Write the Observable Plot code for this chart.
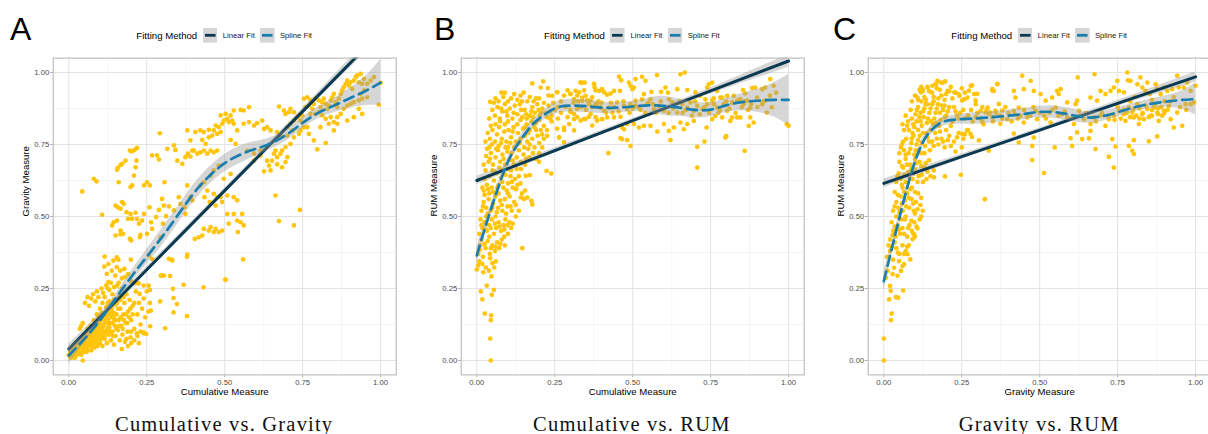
<!DOCTYPE html>
<html>
<head>
<meta charset="utf-8">
<script src="https://cdn.jsdelivr.net/npm/d3@7"></script>
<script src="https://cdn.jsdelivr.net/npm/@observablehq/plot@0.6"></script>
<style>
  html, body { margin: 0; padding: 0; background: #fff; }
  #root { position: relative; width: 1208px; height: 434px; overflow: hidden; background: #fff; font-family: "Liberation Sans", Arial, sans-serif; }
  .abs { position: absolute; }
  .letter { font-size: 32px; line-height: 32px; color: #000; }
  .legend { display: flex; align-items: center; justify-content: center; height: 16px; }
  .legend .lt { font-size: 9.6px; color: #000; margin-right: 5.6px; white-space: nowrap; }
  .legend .ll { font-size: 7.7px; color: #1a1a1a; margin: 0 5.2px 0 5.4px; white-space: nowrap; }
  .legend svg { display: block; }
  .caption { font-family: "Liberation Serif", "Times New Roman", serif; font-size: 20.5px; line-height: 20.5px; letter-spacing: 1.2px; text-align: center; color: #111; white-space: nowrap; }
</style>
</head>
<body>
<div id="root"></div>
<script>
// ---------- tick values ----------
const majorTicks = [0, 0.25, 0.5, 0.75, 1];
const minorTicks = [0.125, 0.375, 0.625, 0.875];
const tickLabels = ["0.00", "0.25", "0.50", "0.75", "1.00"];

// ---------- Panel A: Cumulative (x) vs Gravity (y) ----------
const cumGravityPoints = [
[0.0,0.02],[0.005,0.01],[0.01,0.03],[0.012,0.015],[0.015,0.04],[0.018,0.025],[0.02,0.05],[0.02,0.01],[0.008,0.045],[0.025,0.03],
[0.028,0.02],[0.03,0.045],[0.032,0.06],[0.035,0.03],[0.038,0.075],[0.04,0.05],[0.04,0.02],[0.042,0.065],[0.045,0.04],[0.045,0.0],
[0.05,0.03],[0.05,0.06],[0.052,0.09],[0.055,0.045],[0.058,0.075],[0.06,0.11],[0.06,0.035],[0.062,0.06],[0.065,0.09],[0.068,0.05],[0.07,0.12],[0.07,0.075],[0.072,0.035],
[0.075,0.1],[0.078,0.06],[0.08,0.14],[0.08,0.085],[0.083,0.045],[0.085,0.11],[0.088,0.07],[0.09,0.16],[0.09,0.095],[0.092,0.05],[0.095,0.125],[0.098,0.08],[0.1,0.18],[0.1,0.11],[0.1,0.06],
[0.103,0.14],[0.105,0.09],[0.108,0.2],[0.108,0.05],[0.11,0.12],[0.112,0.165],[0.115,0.075],[0.115,0.22],[0.118,0.1],[0.12,0.14],[0.12,0.185],[0.122,0.06],[0.125,0.115],[0.125,0.25],[0.128,0.16],[0.13,0.09],[0.13,0.205],
[0.133,0.13],[0.135,0.07],[0.138,0.175],[0.14,0.1],[0.14,0.23],[0.143,0.15],[0.145,0.055],[0.148,0.12],[0.15,0.195],[0.15,0.085],[0.153,0.16],[0.155,0.26],[0.157,0.105],[0.16,0.14],[0.16,0.22],[0.163,0.07],[0.165,0.18],
[0.168,0.12],[0.17,0.25],[0.172,0.09],[0.175,0.16],[0.178,0.2],[0.18,0.065],[0.182,0.13],[0.185,0.23],[0.188,0.1],[0.19,0.17],[0.195,0.21],[0.198,0.08],[0.2,0.14],[0.205,0.19],[0.21,0.11],[0.215,0.24],[0.22,0.16],[0.225,0.2],[0.23,0.125],[0.235,0.18],[0.24,0.215],[0.245,0.15],[0.25,0.24],[0.255,0.17],[0.26,0.2],
[0.03,0.035],[0.045,0.055],[0.055,0.065],[0.065,0.075],[0.075,0.085],[0.085,0.095],[0.095,0.105],[0.105,0.115],[0.115,0.13],[0.125,0.14],[0.135,0.15],[0.145,0.165],
[0.06,0.05],[0.07,0.06],[0.08,0.07],[0.09,0.08],[0.1,0.09],[0.11,0.1],[0.12,0.105],[0.13,0.115],[0.14,0.13],[0.15,0.14],[0.035,0.05],[0.025,0.04],[0.015,0.025],
[0.05,0.075],[0.06,0.085],[0.07,0.095],[0.08,0.105],[0.09,0.12],[0.1,0.13],[0.11,0.145],[0.12,0.155],[0.13,0.17],[0.14,0.19],
[0.005,0.03],[0.01,0.02],[0.015,0.01],[0.02,0.03],[0.022,0.06],[0.03,0.025],[0.033,0.045],[0.037,0.06],[0.043,0.03],[0.048,0.07],[0.053,0.05],[0.057,0.03],[0.063,0.1],[0.067,0.065],[0.073,0.05],[0.077,0.075],[0.082,0.12],[0.087,0.06],[0.093,0.09],[0.097,0.14],[0.102,0.075],[0.107,0.105],[0.112,0.085],[0.117,0.15],[0.123,0.09],[0.127,0.13],[0.132,0.1],[0.137,0.16],[0.142,0.085],[0.147,0.14],[0.152,0.11],[0.158,0.18],[0.162,0.12],[0.167,0.15],[0.173,0.11],[0.177,0.14],[0.183,0.16],[0.187,0.13],[0.193,0.15],[0.197,0.18],[0.205,0.16],[0.21,0.2],[0.155,0.2],[0.145,0.21],[0.165,0.21],[0.175,0.22],[0.125,0.2],[0.135,0.19],[0.105,0.165],[0.095,0.15],[0.085,0.13],[0.075,0.115],[0.065,0.105],[0.055,0.095],[0.045,0.085],[0.035,0.07],[0.025,0.055],[0.015,0.05],
[0.052,0.2],[0.06,0.22],[0.065,0.19],[0.072,0.215],[0.078,0.23],[0.085,0.205],[0.09,0.24],[0.095,0.22],[0.105,0.25],[0.11,0.235],[0.12,0.26],[0.13,0.245],[0.135,0.27],[0.145,0.255],[0.16,0.27],[0.17,0.285],[0.18,0.29],[0.19,0.3],[0.2,0.275],
[0.17,0.04],[0.19,0.05],[0.2,0.06],[0.21,0.07],[0.22,0.085],[0.23,0.1],[0.24,0.095],[0.225,0.06],[0.2,0.1],[0.185,0.075],[0.04,0.12],[0.045,0.13],[0.035,0.11],
[0.115,0.361],[0.114,0.326],[0.127,0.335],[0.143,0.347],[0.154,0.358],[0.159,0.35],[0.138,0.312],[0.154,0.324],[0.122,0.301],[0.127,0.272],[0.149,0.295],[0.165,0.312],[0.178,0.318],[0.199,0.35],
[0.213,0.268],[0.224,0.268],[0.24,0.26],[0.256,0.26],[0.227,0.231],[0.26,0.245],[0.263,0.173],[0.261,0.119],[0.248,0.092],[0.218,0.094],[0.24,0.098],
[0.293,0.205],[0.295,0.295],[0.325,0.293],[0.33,0.35],[0.334,0.249],[0.336,0.217],[0.347,0.196],[0.336,0.167],[0.309,0.112],[0.368,0.263],[0.379,0.154],[0.379,0.36],[0.432,0.254],[0.502,0.281],
[0.043,0.587],[0.08,0.631],[0.089,0.622],[0.107,0.506],
[0.196,0.729],[0.203,0.726],[0.211,0.731],[0.219,0.738],[0.155,0.662],[0.157,0.669],[0.166,0.679],[0.171,0.683],[0.182,0.694],[0.217,0.694],[0.16,0.619],[0.198,0.602],[0.203,0.608],[0.209,0.642],[0.214,0.671],
[0.241,0.608],[0.251,0.619],[0.26,0.608],[0.267,0.712],[0.283,0.712],[0.289,0.698],[0.292,0.789],[0.307,0.619],[0.316,0.735],[0.337,0.747],[0.342,0.731],
[0.15,0.538],[0.157,0.532],[0.166,0.527],[0.171,0.55],[0.144,0.48],[0.139,0.469],[0.155,0.486],[0.166,0.451],[0.174,0.44],[0.185,0.515],[0.19,0.492],[0.198,0.509],[0.203,0.492],[0.214,0.513],[0.219,0.492],[0.225,0.475],[0.176,0.544],
[0.15,0.434],[0.166,0.438],[0.196,0.422],[0.2,0.417],[0.23,0.436],[0.228,0.428],[0.241,0.509],[0.235,0.486],[0.259,0.532],[0.264,0.48],[0.28,0.498],[0.289,0.523],[0.299,0.561],[0.305,0.538],[0.312,0.501],[0.321,0.535],
[0.251,0.44],[0.267,0.457],[0.294,0.428],[0.302,0.475],[0.337,0.521],[0.358,0.544],[0.353,0.567],[0.371,0.532],[0.38,0.368],[0.332,0.347],[0.321,0.353],[0.267,0.353],[0.257,0.365],[0.299,0.295],[0.305,0.295],
[0.348,0.694],[0.364,0.683],[0.374,0.706],[0.382,0.718],[0.39,0.708],[0.396,0.729],[0.406,0.793],[0.422,0.799],[0.401,0.729],[0.412,0.718],[0.422,0.723],[0.433,0.729],[0.444,0.718],[0.455,0.729],[0.465,0.723],[0.476,0.729],
[0.428,0.766],[0.439,0.752],[0.449,0.775],[0.46,0.781],[0.465,0.799],[0.476,0.787],[0.487,0.793],[0.481,0.81],[0.492,0.822],[0.497,0.833],[0.487,0.851],[0.503,0.856],[0.519,0.851],[0.524,0.833],[0.529,0.822],[0.54,0.799],[0.508,0.839],[0.513,0.828],
[0.529,0.868],[0.551,0.87],[0.561,0.868],[0.578,0.88],[0.433,0.793],[0.449,0.801],[0.471,0.816],[0.561,0.822],[0.578,0.828],[0.594,0.816],[0.604,0.824],[0.62,0.833],[0.626,0.804],[0.636,0.81],[0.647,0.799],
[0.38,0.799],[0.39,0.764],[0.519,0.766],[0.535,0.752],[0.572,0.729],[0.594,0.718],[0.455,0.642],[0.465,0.66],[0.481,0.677],[0.497,0.631],[0.519,0.648],
[0.422,0.608],[0.433,0.619],[0.444,0.59],[0.465,0.579],[0.476,0.567],[0.487,0.567],[0.492,0.55],[0.38,0.608],[0.39,0.567],[0.396,0.556],[0.435,0.567],[0.452,0.55],[0.471,0.538],
[0.404,0.422],[0.417,0.428],[0.428,0.434],[0.433,0.457],[0.449,0.451],[0.465,0.446],[0.481,0.446],[0.492,0.451],[0.455,0.463],[0.471,0.457],[0.513,0.475],[0.529,0.509],[0.54,0.486],[0.551,0.48],[0.556,0.509],
[0.508,0.573],[0.529,0.567],[0.54,0.556],[0.561,0.469],[0.542,0.446],[0.559,0.351],[0.503,0.28],[0.508,0.509],[0.374,0.509],
[0.594,0.694],[0.615,0.712],[0.636,0.694],[0.642,0.677],[0.652,0.694],[0.668,0.706],[0.679,0.718],[0.684,0.729],[0.695,0.741],[0.711,0.752],[0.722,0.775],[0.738,0.787],[0.743,0.799],[0.754,0.81],
[0.674,0.882],[0.69,0.868],[0.695,0.856],[0.706,0.862],[0.711,0.874],[0.722,0.862],[0.733,0.845],[0.743,0.833],[0.749,0.851],[0.668,0.793],[0.679,0.781],[0.701,0.781],[0.717,0.799],
[0.663,0.573],[0.674,0.484],[0.722,0.469],[0.741,0.523],[0.626,0.657],[0.647,0.66],[0.668,0.681],[0.684,0.671],[0.695,0.689],[0.701,0.706],[0.663,0.729],[0.658,0.718],[0.615,0.729],[0.701,0.81],[0.711,0.822],
[0.754,0.909],[0.765,0.914],[0.775,0.903],[0.786,0.891],[0.791,0.909],[0.802,0.903],[0.807,0.88],[0.813,0.897],[0.818,0.909],[0.824,0.891],[0.829,0.874],[0.834,0.885],[0.84,0.903],[0.845,0.914],[0.85,0.926],[0.856,0.897],[0.861,0.88],[0.866,0.909],[0.872,0.926],[0.877,0.938],[0.882,0.949],[0.888,0.961],[0.893,0.972],[0.898,0.955],[0.904,0.966],[0.909,0.943],[0.914,0.972],[0.92,0.984],[0.925,0.99],[0.93,0.966],[0.936,0.995],[0.941,0.961],[0.947,0.978],
[0.781,0.874],[0.791,0.856],[0.802,0.862],[0.813,0.851],[0.824,0.839],[0.834,0.822],[0.84,0.845],[0.85,0.828],[0.861,0.845],[0.872,0.856],[0.882,0.874],[0.893,0.885],[0.904,0.891],[0.914,0.897],
[0.765,0.81],[0.77,0.787],[0.786,0.764],[0.797,0.733],[0.824,0.755],[0.807,0.81],[0.85,0.799],[0.861,0.822],[0.93,0.903],[0.941,0.909],[0.947,0.938],[0.957,0.961],[0.968,0.972],[0.979,0.984],[0.93,0.874],[0.941,0.856],[0.914,0.845],[0.893,0.833],
[0.994,0.888],[1.0,0.964],[0.957,0.914],[0.936,0.926],[0.722,0.833],[0.738,0.851],[0.759,0.88],[0.77,0.885],[0.775,0.856]
];
const linearX = [0, 0.25, 0.5, 0.75, 1];
const linearFitA = [0.04, 0.315, 0.59, 0.865, 1.14];
const linearLoA = [0.024, 0.305, 0.582, 0.854, 1.12];
const linearHiA = [0.056, 0.325, 0.598, 0.876, 1.16];
const splineXA = [0,0.05,0.1,0.15,0.2,0.25,0.3,0.35,0.4,0.45,0.5,0.55,0.6,0.65,0.7,0.75,0.8,0.85,0.9,0.95,1];
const splineFitA = [0.017,0.075,0.14,0.215,0.29,0.36,0.43,0.505,0.58,0.64,0.685,0.715,0.735,0.755,0.785,0.825,0.86,0.885,0.91,0.935,0.965];
const splineLoA = [-0.013,0.06,0.128,0.2,0.27,0.335,0.4,0.475,0.55,0.61,0.655,0.685,0.71,0.735,0.765,0.805,0.84,0.86,0.875,0.885,0.885];
const splineHiA = [0.047,0.09,0.152,0.23,0.31,0.385,0.46,0.535,0.61,0.67,0.715,0.745,0.76,0.775,0.805,0.845,0.88,0.91,0.945,0.985,1.045];

// ---------- Panel B: Cumulative (x) vs RUM (y) ----------
const cumRumPoints = [
[0.045,0.0],[0.043,0.076],[0.045,0.14],[0.046,0.157],[0.026,0.163],[0.018,0.212],[0.032,0.26],[0.048,0.228],[0.055,0.245],[0.013,0.24],
[0.0,0.316],[0.004,0.33],[0.008,0.344],[0.018,0.335],[0.021,0.306],[0.029,0.323],[0.039,0.312],[0.047,0.292],[0.056,0.323],[0.05,0.338],[0.061,0.344],[0.043,0.355],
[0.146,0.39],[0.043,0.898],[0.079,0.93],[0.178,0.962],[0.213,0.969],[0.205,0.948],[0.228,0.946],[0.258,0.931],[0.242,0.919],
[0.157,0.641],[0.17,0.644],[0.224,0.658],[0.239,0.649],[0.141,0.566],[0.151,0.561],[0.162,0.566],[0.175,0.554],[0.178,0.542],[0.145,0.58],[0.155,0.59],
[0.28,0.809],[0.296,0.821],[0.312,0.838],[0.264,0.774],[0.226,0.78],[0.3,0.925],[0.317,0.936],[0.328,0.931],[0.338,0.913],[0.349,0.919],
[0.005,0.37],[0.012,0.4],[0.02,0.36],[0.028,0.39],[0.035,0.415],[0.042,0.37],[0.05,0.4],[0.058,0.38],[0.065,0.41],[0.072,0.39],[0.08,0.42],[0.015,0.42],[0.04,0.43],
[0.008,0.44],[0.018,0.46],[0.025,0.48],[0.032,0.45],[0.04,0.47],[0.048,0.49],[0.055,0.44],[0.062,0.46],[0.07,0.48],[0.078,0.45],[0.085,0.47],[0.092,0.49],[0.1,0.44],[0.105,0.48],[0.03,0.5],[0.06,0.5],[0.012,0.49],[0.088,0.43],[0.11,0.46],
[0.015,0.52],[0.022,0.55],[0.03,0.53],[0.038,0.56],[0.045,0.52],[0.052,0.545],[0.06,0.57],[0.068,0.53],[0.075,0.555],[0.082,0.52],[0.09,0.56],[0.098,0.535],[0.105,0.57],[0.112,0.52],[0.12,0.55],[0.04,0.58],[0.07,0.58],[0.1,0.58],[0.025,0.575],[0.125,0.5],
[0.018,0.6],[0.025,0.63],[0.032,0.61],[0.04,0.64],[0.048,0.6],[0.055,0.625],[0.062,0.65],[0.07,0.61],[0.078,0.635],[0.085,0.6],[0.092,0.645],[0.1,0.615],[0.108,0.64],[0.115,0.6],[0.122,0.63],[0.13,0.61],[0.05,0.66],[0.08,0.66],[0.11,0.66],[0.135,0.64],
[0.022,0.68],[0.03,0.71],[0.038,0.69],[0.045,0.72],[0.052,0.68],[0.06,0.705],[0.068,0.73],[0.075,0.69],[0.082,0.715],[0.09,0.68],[0.098,0.725],[0.105,0.695],[0.112,0.72],[0.12,0.68],[0.128,0.705],[0.135,0.73],[0.142,0.69],[0.15,0.715],[0.158,0.7],[0.165,0.735],[0.04,0.74],[0.07,0.745],[0.1,0.74],[0.18,0.72],
[0.028,0.76],[0.035,0.79],[0.042,0.77],[0.05,0.8],[0.058,0.76],[0.065,0.785],[0.072,0.81],[0.08,0.77],[0.088,0.795],[0.095,0.76],[0.102,0.8],[0.11,0.775],[0.118,0.81],[0.125,0.76],[0.132,0.79],[0.14,0.77],[0.148,0.805],[0.155,0.78],[0.162,0.76],[0.17,0.8],[0.178,0.77],[0.185,0.81],[0.195,0.78],[0.205,0.8],[0.06,0.82],[0.09,0.82],[0.13,0.82],[0.16,0.82],[0.215,0.77],
[0.04,0.84],[0.05,0.87],[0.058,0.85],[0.066,0.88],[0.074,0.84],[0.082,0.865],[0.09,0.89],[0.098,0.85],[0.106,0.875],[0.114,0.84],[0.122,0.885],[0.13,0.855],[0.138,0.89],[0.146,0.845],[0.154,0.87],[0.162,0.9],[0.17,0.85],[0.178,0.88],[0.186,0.86],[0.194,0.89],[0.202,0.85],[0.21,0.875],[0.22,0.86],[0.23,0.885],[0.24,0.85],[0.25,0.87],[0.1,0.9],[0.13,0.905],[0.07,0.9],
[0.06,0.91],[0.085,0.915],[0.11,0.91],[0.14,0.92],[0.17,0.915],[0.2,0.91],[0.23,0.92],[0.12,0.925],[0.15,0.93],[0.09,0.93],[0.19,0.7],[0.2,0.72],[0.21,0.74],[0.2,0.69],[0.24,0.83],[0.26,0.84],[0.28,0.8],
[0.01,0.385],[0.025,0.405],[0.045,0.39],[0.06,0.395],[0.075,0.405],[0.09,0.4],
[0.015,0.47],[0.028,0.455],[0.045,0.46],[0.058,0.475],[0.072,0.465],[0.088,0.455],[0.098,0.47],[0.115,0.475],
[0.02,0.535],[0.035,0.51],[0.05,0.53],[0.064,0.515],[0.08,0.54],[0.094,0.51],[0.108,0.535],[0.125,0.54],[0.135,0.52],
[0.022,0.59],[0.036,0.595],[0.052,0.585],[0.066,0.6],[0.082,0.62],[0.096,0.59],[0.112,0.62],[0.126,0.595],[0.14,0.615],
[0.028,0.66],[0.042,0.7],[0.058,0.655],[0.072,0.67],[0.086,0.7],[0.1,0.665],[0.115,0.695],[0.128,0.665],[0.142,0.665],[0.155,0.68],[0.168,0.705],
[0.033,0.735],[0.048,0.75],[0.062,0.735],[0.078,0.755],[0.092,0.74],[0.108,0.755],[0.12,0.74],[0.138,0.755],[0.152,0.74],[0.17,0.75],[0.185,0.74],[0.2,0.755],
[0.045,0.815],[0.075,0.83],[0.1,0.83],[0.115,0.795],[0.14,0.835],[0.155,0.81],[0.175,0.83],[0.19,0.8],[0.2,0.835],[0.215,0.815],[0.225,0.8],[0.235,0.84],
[0.055,0.895],[0.078,0.875],[0.095,0.865],[0.118,0.86],[0.142,0.87],[0.158,0.855],[0.182,0.9],[0.198,0.87],[0.215,0.895],[0.235,0.865],[0.245,0.895],[0.26,0.88],[0.27,0.86],
[0.165,0.79],[0.18,0.845],[0.19,0.825],[0.205,0.86],[0.21,0.785],[0.225,0.845],[0.175,0.865],[0.19,0.91],[0.16,0.84],[0.145,0.9],
[0.27,0.9],[0.285,0.88],[0.3,0.87],[0.31,0.895],[0.325,0.9],[0.335,0.88],[0.35,0.87],[0.36,0.89],[0.37,0.88],[0.39,0.9],[0.4,0.895],[0.415,0.86],[0.43,0.895],[0.44,0.88],[0.455,0.865],[0.47,0.9],[0.49,0.86],[0.5,0.875],[0.51,0.885],[0.525,0.87],[0.54,0.86],[0.55,0.895],[0.565,0.89],[0.575,0.86],[0.59,0.9],[0.605,0.88],[0.615,0.86],[0.63,0.875],[0.65,0.9],[0.66,0.86],[0.67,0.87],[0.69,0.85],[0.7,0.9],[0.715,0.855],[0.73,0.88],[0.745,0.86],[0.76,0.91],[0.775,0.86],
[0.258,0.932],[0.28,0.92],[0.291,0.938],[0.301,0.926],[0.312,0.908],[0.322,0.92],[0.333,0.966],[0.338,0.964],[0.344,0.938],[0.354,0.903],[0.37,0.914],[0.376,0.961],[0.381,0.938],[0.386,0.891],
[0.291,0.845],[0.301,0.862],[0.312,0.856],[0.322,0.874],[0.333,0.833],[0.349,0.839],[0.365,0.856],[0.37,0.816],[0.381,0.845],[0.386,0.833],[0.258,0.805],[0.264,0.775],[0.28,0.758],[0.312,0.799],[0.322,0.845],
[0.333,0.965],[0.346,0.965],[0.376,0.959],[0.378,0.948],[0.392,0.936],[0.402,0.942],[0.408,0.931],[0.418,0.923],[0.429,0.927],[0.44,0.936],[0.459,0.936],[0.456,0.986],[0.463,0.973],[0.488,0.965],[0.493,0.954],[0.499,0.942],[0.504,0.948],[0.509,0.977],[0.53,0.985],[0.541,0.971],[0.536,0.925],[0.56,0.933],[0.578,0.991],[0.591,0.933],[0.613,0.93],[0.605,0.948],[0.643,0.942],[0.653,0.994],[0.667,1.0],[0.675,0.939],[0.701,0.931],[0.717,0.919],[0.739,0.948],[0.744,0.959],[0.755,0.965],[0.771,0.936],[0.781,0.913],[0.803,0.919],[0.824,0.919],[0.854,0.939],[0.861,0.927],[0.883,0.946],[0.893,0.948],[0.915,0.942],[0.925,0.948],[0.941,0.977],[0.952,0.954],
[0.344,0.838],[0.36,0.846],[0.386,0.834],[0.402,0.838],[0.418,0.844],[0.44,0.844],[0.461,0.846],[0.466,0.809],[0.472,0.803],[0.482,0.821],[0.504,0.821],[0.52,0.809],[0.536,0.815],[0.557,0.815],[0.461,0.772],[0.466,0.769],[0.482,0.765],[0.493,0.745],[0.422,0.72],[0.579,0.795],[0.6,0.821],[0.616,0.797],[0.621,0.765],[0.632,0.809],[0.653,0.826],[0.664,0.803],[0.675,0.821],[0.696,0.832],[0.707,0.742],[0.707,0.67],[0.73,0.76],[0.737,0.809],[0.755,0.838],[0.765,0.849],[0.787,0.844],[0.797,0.774],[0.8,0.779],[0.813,0.832],[0.819,0.844],[0.835,0.844],[0.845,0.844],[0.859,0.728],[0.872,0.815],[0.877,0.844],[0.888,0.826],[0.93,0.861],[0.946,0.879],[0.994,0.821],[1.0,0.815],
[0.338,0.902],[0.365,0.902],[0.381,0.89],[0.397,0.878],[0.408,0.867],[0.424,0.878],[0.435,0.861],[0.45,0.896],[0.472,0.884],[0.482,0.873],[0.493,0.89],[0.509,0.902],[0.52,0.878],[0.53,0.907],[0.546,0.89],[0.557,0.907],[0.568,0.873],[0.584,0.884],[0.6,0.867],[0.616,0.907],[0.627,0.896],[0.643,0.861],[0.659,0.89],[0.675,0.878],[0.685,0.896],[0.696,0.867],[0.707,0.884],[0.723,0.873],[0.733,0.907],[0.739,0.89],[0.755,0.902],[0.771,0.878],[0.787,0.913],[0.792,0.89],[0.803,0.867],[0.819,0.896],[0.835,0.902],[0.845,0.907],[0.856,0.89],[0.867,0.902],[0.877,0.878],[0.899,0.913],[0.915,0.89],[0.925,0.902],
[0.76,0.89],[0.78,0.87],[0.8,0.9],[0.81,0.875],[0.82,0.895],[0.83,0.86],[0.84,0.905],[0.85,0.88],[0.86,0.9],[0.87,0.87],[0.88,0.89],[0.9,0.88],[0.92,0.9],[0.94,0.92],[0.96,0.93]
];
const linearFitB = [0.625, 0.729, 0.833, 0.936, 1.04];
const linearLoB = [0.61, 0.72, 0.826, 0.926, 1.018];
const linearHiB = [0.64, 0.738, 0.84, 0.946, 1.062];
const splineXB = [0,0.025,0.05,0.075,0.1,0.125,0.15,0.175,0.2,0.25,0.3,0.35,0.4,0.45,0.5,0.55,0.6,0.65,0.7,0.75,0.8,0.85,0.9,0.95,1];
const splineFitB = [0.365,0.455,0.54,0.62,0.69,0.74,0.78,0.815,0.84,0.875,0.885,0.883,0.878,0.878,0.882,0.886,0.884,0.878,0.87,0.871,0.886,0.897,0.902,0.905,0.905];
const splineLoB = [0.335,0.435,0.522,0.604,0.675,0.725,0.765,0.8,0.824,0.855,0.863,0.861,0.858,0.86,0.864,0.861,0.851,0.848,0.842,0.846,0.861,0.867,0.862,0.847,0.817];
const splineHiB = [0.395,0.475,0.558,0.636,0.705,0.755,0.795,0.83,0.856,0.895,0.907,0.905,0.898,0.896,0.9,0.911,0.917,0.908,0.898,0.896,0.911,0.927,0.942,0.963,0.993];

// ---------- Panel C: Gravity (x) vs RUM (y) ----------
const gravRumPoints = [
[0,0],[0,0.076],[0.025,0.163],[0.023,0.14],[0.017,0.212],[0.022,0.242],[0.02,0.259],[0.039,0.22],[0.046,0.218],[0.062,0.243],
[0.007,0.288],[0.012,0.311],[0.028,0.3],[0.033,0.322],[0.044,0.294],[0.055,0.311],[0.06,0.328],[0.049,0.345],[0.065,0.334],[0.085,0.351],[0.076,0.369],
[0.108,0.459],[0.097,0.438],[0.092,0.421],[0.324,0.56],[0.161,0.636],[0.196,0.639],[0.247,0.645],
[0.01,0.36],[0.02,0.38],[0.03,0.35],[0.04,0.39],[0.05,0.37],[0.06,0.4],[0.07,0.38],[0.08,0.4],[0.015,0.4],[0.035,0.41],
[0.02,0.42],[0.03,0.45],[0.038,0.43],[0.045,0.47],[0.052,0.44],[0.06,0.46],[0.068,0.49],[0.075,0.43],[0.082,0.47],[0.09,0.45],[0.098,0.48],[0.04,0.5],[0.07,0.5],[0.025,0.48],[0.1,0.43],[0.055,0.49],
[0.03,0.52],[0.04,0.55],[0.047,0.53],[0.054,0.57],[0.061,0.52],[0.068,0.555],[0.075,0.58],[0.082,0.53],[0.089,0.56],[0.096,0.52],[0.103,0.55],[0.11,0.58],[0.117,0.54],[0.06,0.6],[0.09,0.6],[0.035,0.585],[0.125,0.52],[0.12,0.5],[0.115,0.49],[0.1,0.51],
[0.04,0.62],[0.048,0.65],[0.055,0.63],[0.062,0.67],[0.07,0.62],[0.078,0.655],[0.085,0.68],[0.092,0.63],[0.1,0.665],[0.108,0.62],[0.115,0.69],[0.122,0.645],[0.13,0.67],[0.137,0.63],[0.145,0.695],[0.07,0.7],[0.1,0.7],[0.05,0.69],[0.16,0.66],
[0.05,0.72],[0.058,0.75],[0.065,0.73],[0.072,0.77],[0.08,0.72],[0.088,0.755],[0.095,0.78],[0.102,0.73],[0.11,0.765],[0.118,0.72],[0.125,0.79],[0.132,0.745],[0.14,0.775],[0.148,0.73],[0.155,0.76],[0.165,0.79],[0.175,0.75],[0.185,0.77],[0.195,0.74],[0.21,0.78],[0.225,0.76],[0.24,0.79],[0.255,0.77],[0.27,0.8],[0.08,0.8],[0.11,0.8],[0.15,0.8],[0.2,0.8],[0.23,0.725],[0.25,0.74],
[0.06,0.82],[0.07,0.85],[0.078,0.83],[0.086,0.87],[0.094,0.82],[0.102,0.855],[0.11,0.88],[0.118,0.83],[0.126,0.865],[0.134,0.89],[0.142,0.84],[0.15,0.875],[0.158,0.82],[0.166,0.86],[0.174,0.89],[0.182,0.835],[0.19,0.87],[0.2,0.85],[0.21,0.88],[0.22,0.83],[0.23,0.865],[0.24,0.84],[0.255,0.87],[0.27,0.85],[0.285,0.83],[0.3,0.86],[0.09,0.9],[0.12,0.9],[0.16,0.9],
[0.1,0.92],[0.115,0.94],[0.13,0.915],[0.14,0.95],[0.155,0.93],[0.165,0.96],[0.18,0.94],[0.19,0.965],[0.2,0.925],[0.215,0.95],[0.23,0.93],[0.25,0.945],[0.125,0.935],[0.175,0.91],
[0.025,0.395],[0.045,0.375],[0.065,0.37],[0.075,0.395],
[0.028,0.435],[0.035,0.465],[0.05,0.455],[0.065,0.44],[0.078,0.46],[0.088,0.485],[0.095,0.44],[0.105,0.465],
[0.035,0.535],[0.05,0.515],[0.058,0.545],[0.072,0.535],[0.08,0.565],[0.094,0.545],[0.1,0.585],[0.108,0.525],[0.12,0.565],[0.065,0.585],[0.045,0.575],[0.085,0.595],
[0.044,0.64],[0.058,0.61],[0.066,0.645],[0.074,0.68],[0.082,0.635],[0.096,0.65],[0.105,0.685],[0.112,0.64],[0.126,0.62],[0.134,0.685],[0.14,0.655],[0.15,0.64],[0.058,0.675],[0.088,0.665],[0.12,0.675],
[0.055,0.74],[0.062,0.76],[0.07,0.715],[0.085,0.735],[0.09,0.77],[0.098,0.715],[0.105,0.75],[0.115,0.78],[0.122,0.755],[0.13,0.72],[0.137,0.79],[0.145,0.76],[0.16,0.745],[0.17,0.77],[0.18,0.795],[0.19,0.76],[0.205,0.765],[0.215,0.745],[0.235,0.775],[0.26,0.785],
[0.065,0.8],[0.075,0.815],[0.09,0.84],[0.098,0.81],[0.106,0.87],[0.114,0.845],[0.122,0.815],[0.13,0.875],[0.138,0.825],[0.146,0.86],[0.155,0.89],[0.162,0.84],[0.17,0.875],[0.178,0.815],[0.186,0.885],[0.195,0.845],[0.205,0.865],[0.215,0.815],[0.225,0.88],[0.235,0.85],[0.245,0.86],[0.26,0.84],[0.28,0.87],[0.295,0.845],
[0.11,0.905],[0.12,0.95],[0.135,0.905],[0.145,0.935],[0.16,0.915],[0.17,0.945],[0.185,0.92],[0.195,0.905],[0.21,0.935],[0.22,0.91],[0.24,0.925],[0.26,0.93],
[0.118,0.86],[0.128,0.845],[0.14,0.89],[0.152,0.83],[0.168,0.825],[0.18,0.86],[0.195,0.885],[0.105,0.83],[0.092,0.79],[0.112,0.73],
[0.31,0.84],[0.32,0.82],[0.33,0.87],[0.35,0.83],[0.36,0.86],[0.38,0.84],[0.39,0.88],[0.4,0.86],[0.41,0.83],[0.42,0.855],[0.43,0.84],[0.45,0.87],[0.47,0.85],[0.48,0.88],[0.5,0.86],[0.52,0.84],[0.54,0.87],[0.56,0.85],[0.58,0.865],[0.6,0.84],[0.63,0.85],[0.65,0.86],[0.68,0.83],[0.7,0.86],[0.72,0.85],[0.74,0.835],[0.75,0.88],[0.77,0.87],[0.79,0.845],[0.82,0.84],[0.86,0.85],[0.88,0.875],[0.9,0.86],[0.91,0.87],[0.95,0.88],[0.97,0.87],
[0.172,0.971],[0.183,0.965],[0.197,0.969],[0.167,0.959],[0.156,0.954],[0.119,0.931],[0.108,0.913],[0.124,0.942],[0.14,0.948],[0.204,0.936],[0.226,0.931],[0.242,0.919],[0.258,0.907],[0.268,0.913],[0.279,0.954],[0.29,0.925],[0.295,0.89],[0.311,0.867],[0.333,0.878],
[0.251,0.903],[0.273,0.937],[0.283,0.955],[0.3,0.926],[0.294,0.903],[0.316,0.88],[0.326,0.862],[0.337,0.856],[0.348,0.845],[0.364,0.961],[0.348,0.937],[0.369,0.891],[0.374,0.822],[0.38,0.868],[0.283,0.776],[0.305,0.764],[0.316,0.828],[0.337,0.729],[0.251,0.787],[0.267,0.799],[0.278,0.787],
[0.364,0.959],[0.353,0.936],[0.348,0.942],[0.444,0.989],[0.471,0.971],[0.449,0.942],[0.481,0.936],[0.417,0.936],[0.422,0.913],[0.503,0.925],[0.519,0.902],[0.54,0.913],[0.556,0.936],[0.567,0.942],[0.561,0.925],[0.588,0.896],[0.622,0.983],[0.615,0.89],[0.62,0.902],[0.663,0.913],[0.676,0.994],[0.684,0.902],[0.695,0.936],[0.711,0.925],[0.727,0.936],[0.738,0.948],[0.749,0.971],[0.754,0.936],[0.77,0.931],[0.781,1.0],[0.783,0.973],[0.791,0.971],[0.813,0.959],[0.823,0.983],[0.829,0.948],[0.839,0.936],[0.845,0.965],[0.853,0.925],[0.872,0.959],[0.877,0.942],[0.888,0.925],[0.898,0.948],[0.909,0.936],[0.925,0.942],[0.941,0.989],[0.946,0.948],[0.962,0.948],[0.973,0.965],[0.984,0.936],[1.0,0.954],
[0.417,0.788],[0.433,0.757],[0.481,0.774],[0.476,0.745],[0.476,0.696],[0.514,0.651],[0.548,0.74],[0.599,0.772],[0.604,0.745],[0.62,0.792],[0.636,0.769],[0.658,0.771],[0.663,0.797],[0.679,0.734],[0.722,0.707],[0.738,0.67],[0.733,0.769],[0.743,0.743],[0.786,0.745],[0.802,0.765],[0.797,0.728],[0.802,0.717],[0.85,0.761],[0.877,0.778],
[0.342,0.861],[0.358,0.867],[0.374,0.85],[0.396,0.838],[0.417,0.867],[0.433,0.878],[0.438,0.85],[0.449,0.826],[0.46,0.844],[0.487,0.867],[0.492,0.838],[0.514,0.85],[0.53,0.861],[0.535,0.826],[0.551,0.878],[0.572,0.855],[0.588,0.844],[0.61,0.821],[0.626,0.867],[0.642,0.838],[0.663,0.821],[0.674,0.844],[0.695,0.85],[0.711,0.815],[0.722,0.838],[0.738,0.85],[0.754,0.867],[0.77,0.855],[0.775,0.832],[0.786,0.878],[0.797,0.861],[0.802,0.844],[0.813,0.89],[0.818,0.821],[0.829,0.855],[0.834,0.838],[0.845,0.873],[0.856,0.85],[0.866,0.878],[0.877,0.861],[0.882,0.832],[0.893,0.85],[0.898,0.867],[0.914,0.884],[0.92,0.838],[0.93,0.809],[0.941,0.861],[0.957,0.815],[0.968,0.89],[0.984,0.89],[0.995,0.896],
[0.8,0.87],[0.81,0.85],[0.82,0.875],[0.83,0.86],[0.84,0.885],[0.85,0.845],[0.86,0.87],[0.87,0.89],[0.88,0.855],[0.89,0.88],[0.9,0.9],[0.76,0.84],[0.78,0.86],[0.79,0.9],[0.805,0.915],[0.86,0.905],[0.92,0.9],[0.93,0.915]
];
const linearFitC = [0.615, 0.708, 0.8, 0.893, 0.985];
const linearLoC = [0.6, 0.699, 0.793, 0.883, 0.967];
const linearHiC = [0.63, 0.717, 0.807, 0.903, 1.003];
const splineXC = [0,0.025,0.05,0.075,0.1,0.125,0.15,0.175,0.2,0.25,0.3,0.35,0.4,0.45,0.5,0.55,0.6,0.65,0.7,0.75,0.8,0.85,0.9,0.95,1];
const splineFitC = [0.275,0.385,0.495,0.6,0.69,0.757,0.797,0.82,0.832,0.838,0.841,0.845,0.85,0.856,0.863,0.862,0.853,0.844,0.848,0.862,0.878,0.89,0.898,0.904,0.908];
const splineLoC = [0.24,0.363,0.477,0.584,0.675,0.742,0.782,0.805,0.817,0.82,0.821,0.825,0.83,0.836,0.843,0.84,0.831,0.824,0.83,0.846,0.863,0.874,0.878,0.874,0.853];
const splineHiC = [0.31,0.407,0.513,0.616,0.705,0.772,0.812,0.835,0.847,0.856,0.861,0.865,0.87,0.876,0.883,0.884,0.875,0.864,0.866,0.878,0.893,0.906,0.918,0.934,0.963];

// ---------- styling constants ----------
const POINT = "#FFC40C";
const NAVY = "#0A3A52";
const BLUE = "#1A7EAE";
const BAND = "#999999";

function table(xs, fit, lo, hi) {
  return xs.map((x, i) => ({x, fit: fit[i], lo: lo[i], hi: hi[i]}));
}

const panels = [
  {ox: 0, letter: "A", letterX: 10, pts: cumGravityPoints, lin: table(linearX, linearFitA, linearLoA, linearHiA), spl: table(splineXA, splineFitA, splineLoA, splineHiA), xLabel: "Cumulative Measure", yLabel: "Gravity Measure", caption: "Cumulative vs. Gravity"},
  {ox: 407.7, letter: "B", letterX: 434, pts: cumRumPoints, lin: table(linearX, linearFitB, linearLoB, linearHiB), spl: table(splineXB, splineFitB, splineLoB, splineHiB), xLabel: "Cumulative Measure", yLabel: "RUM Measure", caption: "Cumulative vs. RUM"},
  {ox: 815, letter: "C", letterX: 833, pts: gravRumPoints, lin: table(linearX, linearFitC, linearLoC, linearHiC), spl: table(splineXC, splineFitC, splineLoC, splineHiC), xLabel: "Gravity Measure", yLabel: "RUM Measure", caption: "Gravity vs. RUM"}
];

const root = document.getElementById("root");
const ML = 52.7, FW = 343;

function keySvg(color) {
  return `<svg width="14.6" height="14.6" viewBox="0 0 14.6 14.6"><rect width="14.6" height="14.6" fill="#d6d6d6"/><line x1="2" x2="12.6" y1="7.3" y2="7.3" stroke="${color}" stroke-width="2.8"/></svg>`;
}

for (const p of panels) {
  const L = document.createElement("div");
  L.className = "abs letter";
  L.style.left = p.letterX + "px";
  L.style.top = "12.9px";
  L.textContent = p.letter;
  root.appendChild(L);

  const lg = document.createElement("div");
  lg.className = "abs legend";
  lg.style.left = (p.ox + ML) + "px";
  lg.style.width = FW + "px";
  lg.style.top = "27.4px";
  lg.innerHTML = `<span class="lt">Fitting Method</span>${keySvg(NAVY)}<span class="ll">Linear Fit</span>${keySvg(BLUE)}<span class="ll" style="margin-right:0">Spline Fit</span>`;
  root.appendChild(lg);

  const chart = Plot.plot({
    width: 408, height: 364,
    marginLeft: ML, marginRight: 408 - ML - FW, marginTop: 17.6, marginBottom: 29.6,
    x: {domain: [-0.05, 1.05]},
    y: {domain: [-0.05, 1.05]},
    style: {fontFamily: "'Liberation Sans', Arial, sans-serif", background: "transparent", overflow: "visible"},
    marks: [
      Plot.gridX(minorTicks, {stroke: "#efefef", strokeOpacity: 1, strokeWidth: 0.6}),
      Plot.gridY(minorTicks, {stroke: "#efefef", strokeOpacity: 1, strokeWidth: 0.6}),
      Plot.gridX(majorTicks, {stroke: "#e3e3e3", strokeOpacity: 1, strokeWidth: 1}),
      Plot.gridY(majorTicks, {stroke: "#e3e3e3", strokeOpacity: 1, strokeWidth: 1}),
      Plot.dot(p.pts, {x: d => d[0], y: d => d[1], r: 2.35, fill: POINT, stroke: "none"}),
      Plot.areaY(p.lin, {x: "x", y1: "lo", y2: "hi", fill: BAND, fillOpacity: 0.4, clip: true}),
      Plot.line(p.lin, {x: "x", y: "fit", stroke: NAVY, strokeWidth: 3, clip: true}),
      Plot.areaY(p.spl, {x: "x", y1: "lo", y2: "hi", fill: BAND, fillOpacity: 0.4, curve: "natural", clip: true}),
      Plot.line(p.spl, {x: "x", y: "fit", stroke: BLUE, strokeWidth: 2.7, strokeDasharray: "10,6", curve: "natural", clip: true}),
      Plot.frame({stroke: "#b3b3b3", strokeWidth: 1}),
      Plot.axisX(majorTicks, {anchor: "bottom", tickFormat: d => tickLabels[majorTicks.indexOf(d)], tickSize: 2.8, tickPadding: 1.8, fontSize: 7.7, stroke: "#b3b3b3", fill: "#4d4d4d", label: null}),
      Plot.axisY(majorTicks, {anchor: "left", tickFormat: d => tickLabels[majorTicks.indexOf(d)], tickSize: 2.8, tickPadding: 1.2, fontSize: 7.7, stroke: "#b3b3b3", fill: "#4d4d4d", label: null}),
      Plot.text([p.xLabel], {frameAnchor: "bottom", dy: 17.5, text: d => d, fontSize: 9.6, fill: "#000", lineAnchor: "middle"}),
      Plot.text([p.yLabel], {frameAnchor: "left", dx: -27, rotate: -90, text: d => d, fontSize: 9.6, fill: "#000", lineAnchor: "middle"})
    ]
  });
  const wrap = document.createElement("div");
  wrap.className = "abs";
  wrap.style.left = p.ox + "px";
  wrap.style.top = "40px";
  wrap.style.width = "408px";
  wrap.appendChild(chart);
  root.appendChild(wrap);

  const c = document.createElement("div");
  c.className = "abs caption";
  c.style.left = (p.ox + ML) + "px";
  c.style.width = FW + "px";
  c.style.top = "413.5px";
  c.textContent = p.caption;
  root.appendChild(c);
}
</script>
</body>
</html>
